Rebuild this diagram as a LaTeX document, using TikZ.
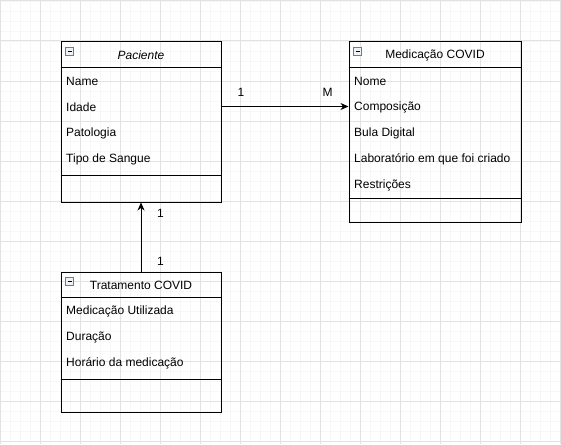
\documentclass[tikz,border=0pt]{standalone}
\usepackage{fontspec}
\setmainfont{Liberation Sans}
\usetikzlibrary{
  arrows.meta,   % 箭头样式
  calc,          % 坐标计算
  positioning    % 节点相对定位
}

\definecolor{gridminor}{HTML}{F7F7F7}
\definecolor{gridmajor}{HTML}{E2E2E2}
\definecolor{iconline}{HTML}{7A7A7A}
\definecolor{iconfill}{HTML}{EEF2F6}

\tikzset{
  classbox/.style={draw, line width=1pt, anchor=north west, inner sep=0pt},
  titletext/.style={font=\fontsize{12pt}{14pt}\selectfont},
  attrtext/.style={anchor=west, inner xsep=5.5pt, inner ysep=0pt,
    font=\fontsize{12pt}{14pt}\selectfont},
  multtext/.style={inner sep=0pt, font=\fontsize{12pt}{14pt}\selectfont},
  assoc/.style={-{Stealth[length=8pt, width=7pt, inset=2.5pt]}, line width=1pt}
}

\begin{document}
\begin{tikzpicture}[x=1pt, y=-1pt]

  \useasboundingbox (0,0) rectangle (561,444);
  \fill[white] (0,0) rectangle (561,444);

  % =========== 背景网格 ===========
  \foreach \gx in {0,10,...,560} {
    \draw[gridminor, line width=0.8pt] (\gx,0) -- (\gx,444);
  }
  \foreach \gy in {1,11,...,441} {
    \draw[gridminor, line width=0.8pt] (0,\gy) -- (561,\gy);
  }
  \foreach \gx in {0,40,...,560} {
    \draw[gridmajor, line width=1pt] (\gx,0) -- (\gx,444);
  }
  \foreach \gy in {1,41,...,441} {
    \draw[gridmajor, line width=1pt] (0,\gy) -- (561,\gy);
  }

  % =========== 类：Paciente ===========
  \node[classbox, minimum width=160pt, minimum height=160pt] (pac) at (60.5,41.5) {};
  \draw[line width=1pt] ($(pac.north west)+(0,26)$) -- ($(pac.north east)+(0,26)$);
  \draw[line width=1pt] ($(pac.north west)+(0,134)$) -- ($(pac.north east)+(0,134)$);
  \node[titletext, font=\fontsize{12pt}{14pt}\selectfont\itshape] (pactitle) at ($(pac.north)+(0,13.5)$) {Paciente};
  \draw[iconline, fill=iconfill, line width=0.8pt] ($(pac.north west)+(5,5.5)$) rectangle ++(8,8);
  \draw[black, line width=1pt] ($(pac.north west)+(7,9.5)$) -- ++(4,0);
  \node[attrtext] (pname)   at ($(pac.north west)+(0,40)$)  {Name};
  \node[attrtext] (pidade)  at ($(pac.north west)+(0,66)$)  {Idade};
  \node[attrtext] (ppatol)  at ($(pac.north west)+(0,92)$)  {Patologia};
  \node[attrtext] (psangue) at ($(pac.north west)+(0,118)$) {Tipo de Sangue};

  % =========== 类：Medicação COVID ===========
  \node[classbox, minimum width=172pt, minimum height=180pt] (med) at (348.5,41.5) {};
  \draw[line width=1pt] ($(med.north west)+(0,26)$) -- ($(med.north east)+(0,26)$);
  \draw[line width=1pt] ($(med.north west)+(0,157)$) -- ($(med.north east)+(0,157)$);
  \node[titletext] (medtitle) at ($(med.north)+(0,13.5)$) {Medicação COVID};
  \draw[iconline, fill=iconfill, line width=0.8pt] ($(med.north west)+(5,5.5)$) rectangle ++(8,8);
  \draw[black, line width=1pt] ($(med.north west)+(7,9.5)$) -- ++(4,0);
  \node[attrtext] (mnome)  at ($(med.north west)+(0,40)$)  {Nome};
  \node[attrtext] (mcomp)  at ($(med.north west)+(0,66)$)  {Composição};
  \node[attrtext] (mbula)  at ($(med.north west)+(0,92)$)  {Bula Digital};
  \node[attrtext] (mlab)   at ($(med.north west)+(0,118)$) {Laboratório em que foi criado};
  \node[attrtext] (mrestr) at ($(med.north west)+(0,144)$) {Restrições};

  % =========== 类：Tratamento COVID ===========
  \node[classbox, minimum width=160pt, minimum height=140pt] (trat) at (60.5,271.5) {};
  \draw[line width=1pt] ($(trat.north west)+(0,26)$) -- ($(trat.north east)+(0,26)$);
  \draw[line width=1pt] ($(trat.north west)+(0,108)$) -- ($(trat.north east)+(0,108)$);
  \node[titletext] (trattitle) at ($(trat.north)+(0,13.5)$) {Tratamento COVID};
  \draw[iconline, fill=iconfill, line width=0.8pt] ($(trat.north west)+(5,5.5)$) rectangle ++(8,8);
  \draw[black, line width=1pt] ($(trat.north west)+(7,9.5)$) -- ++(4,0);
  \node[attrtext] (tmedic)   at ($(trat.north west)+(0,40)$) {Medicação Utilizada};
  \node[attrtext] (tduracao) at ($(trat.north west)+(0,66)$) {Duração};
  \node[attrtext] (thorario) at ($(trat.north west)+(0,92)$) {Horário da medicação};

  % =========== 关联 ===========
  % Paciente -> Medicação COVID (1 : M)
  \draw[assoc] ($(pac.north east)+(0,65)$) -- ($(med.north west)+(0,65)$);
  \node[multtext] (m1a) at ($(pac.north east)+(19.5,51)$) {1};
  \node[multtext] (m1b) at ($(med.north west)+(-21,51)$) {M};

  % Tratamento COVID -> Paciente (1 : 1)
  \draw[assoc] (trat.north) -- (pac.south);
  \node[multtext] (m2a) at ($(pac.south)+(19.5,11)$) {1};
  \node[multtext] (m2b) at ($(trat.north)+(19.5,-10)$) {1};

\end{tikzpicture}
\end{document}
